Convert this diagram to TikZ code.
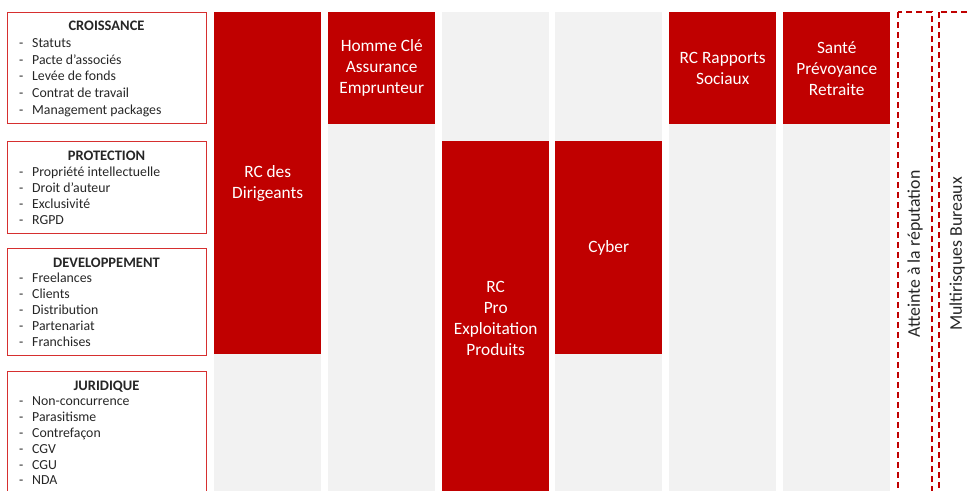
\documentclass[tikz,border=0pt]{standalone}
\usepackage{fontspec}
\setmainfont{Carlito}
\definecolor{rouge}{HTML}{C00000}
\definecolor{filet}{HTML}{D62F2F}
\definecolor{gris}{HTML}{F2F2F2}
\definecolor{encre}{HTML}{262626}

\begin{document}
\begin{tikzpicture}[x=1pt,y=-1pt,
    cadre/.style={draw=filet,line width=1pt},
    titre/.style={font=\fontsize{14.5}{16}\selectfont\bfseries,text=encre,anchor=base,inner sep=0pt},
    puce/.style={font=\fontsize{13.8}{16}\selectfont,text=encre,anchor=base west,inner sep=0pt},
    fond/.style={fill=gris,draw=none},
    bloc/.style={fill=rouge,text=white,align=center,anchor=north west,
        font=\fontsize{17.3}{21}\selectfont,inner sep=0pt,minimum width=107pt},
    tirets/.style={draw=rouge,line width=1.5pt,dash pattern=on 6pt off 4pt},
    vertical/.style={rotate=90,font=\fontsize{17.8}{21}\selectfont,text=encre}]
    \useasboundingbox (0,0) rectangle (968,490);
    \clip (0,0) rectangle (968,490);
    % colonnes grises
    \foreach \x in {214,328,442,555,669,783}
        \fill[fond] (\x,12) rectangle ++(107,490);
    % blocs rouges
    \node[bloc,minimum height=342pt] (dirigeants) at (214,12) {RC des\\Dirigeants};
    \node[bloc,minimum height=112pt] (homme) at (328,12) {Homme Clé\\Assurance\\Emprunteur};
    \node[bloc,minimum height=354pt] (rcpro) at (442,141) {RC\\Pro\\Exploitation\\Produits};
    \node[bloc,minimum height=213pt] (cyber) at (555,141) {Cyber};
    \node[bloc,minimum height=112pt] (sociaux) at (669,12) {RC Rapports\\Sociaux};
    \node[bloc,minimum height=112pt] (sante) at (783,12) {Santé\\Prévoyance\\Retraite};
    % cadres pointilles
    \draw[tirets] (898,12) rectangle (932,500);
    \draw[tirets] (939,12) rectangle (980,500);
    \node[vertical] (reputation) at (915,254) {Atteinte à la réputation};
    \node[vertical] (bureaux) at (957,254) {Multirisques Bureaux};
    % cadres de gauche
    \draw[cadre] (7,12) rectangle (206,123);
    \node[titre] (croissance) at (106.5,30.5) {CROISSANCE};
    \foreach \t [count=\i] in {Statuts,Pacte d’associés,Levée de fonds,Contrat de travail,Management packages}{
        \node[puce] (c\i-tiret) at (19,30.5+16.8*\i) {-};
        \node[puce] (c\i) at (32,30.5+16.8*\i) {\t};
    }
    \draw[cadre] (7,141) rectangle (206,233);
    \node[titre] (protection) at (106.5,160) {PROTECTION};
    \foreach \t [count=\i] in {Propriété intellectuelle,Droit d’auteur,Exclusivité,RGPD}{
        \node[puce] (p\i-tiret) at (19,160+16*\i) {-};
        \node[puce] (p\i) at (32,160+16*\i) {\t};
    }
    \draw[cadre] (7,248) rectangle (206,355);
    \node[titre] (developpement) at (106.5,267) {DEVELOPPEMENT};
    \foreach \t [count=\i] in {Freelances,Clients,Distribution,Partenariat,Franchises}{
        \node[puce] (d\i-tiret) at (19,267+15.8*\i) {-};
        \node[puce] (d\i) at (32,267+15.8*\i) {\t};
    }
    \draw[cadre] (7,371) rectangle (206,500);
    \node[titre] (juridique) at (106.5,390) {JURIDIQUE};
    \foreach \t [count=\i] in {Non-concurrence,Parasitisme,Contrefaçon,CGV,CGU,NDA}{
        \node[puce] (j\i-tiret) at (19,390+15.8*\i) {-};
        \node[puce] (j\i) at (32,390+15.8*\i) {\t};
    }
\end{tikzpicture}
\end{document}
